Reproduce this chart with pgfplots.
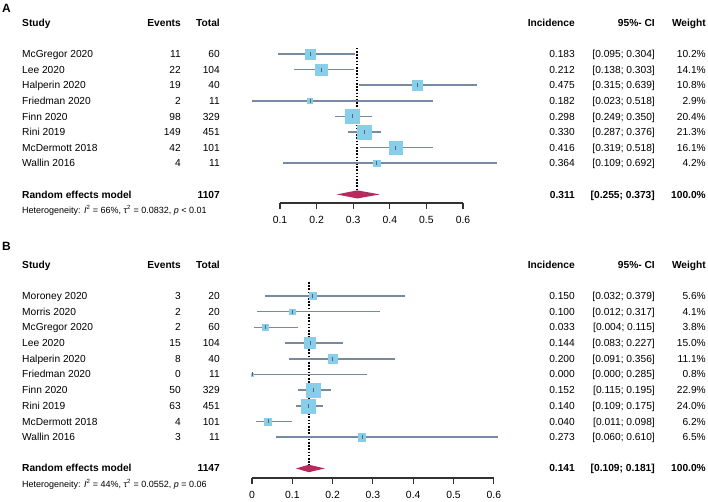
\documentclass[border=0pt]{standalone}
\usepackage{pgfplots}
\pgfplotsset{compat=1.18}
\usepackage{pgfplotstable}
\usepackage{fontspec}
\setmainfont{Liberation Sans}

\definecolor{boxblue}{RGB}{135,206,235}
\definecolor{ciline}{RGB}{118,138,160}
\definecolor{tickgray}{RGB}{90,100,115}
\definecolor{diam}{RGB}{185,40,95}
\definecolor{axisgray}{RGB}{50,50,50}

% panel A: row, incidence, lower, upper, weight
\pgfplotstableread{
row est lo hi w
1 0.183 0.095 0.304 10.2
2 0.212 0.138 0.303 14.1
3 0.475 0.315 0.639 10.8
4 0.182 0.023 0.518 2.9
5 0.298 0.249 0.350 20.4
6 0.330 0.287 0.376 21.3
7 0.416 0.319 0.518 16.1
8 0.364 0.109 0.692 4.2
}\dataA

% panel B
\pgfplotstableread{
row est lo hi w
1 0.150 0.032 0.379 5.6
2 0.100 0.012 0.317 4.1
3 0.033 0.004 0.115 3.8
4 0.144 0.083 0.227 15.0
5 0.200 0.091 0.356 11.1
6 0.000 0.000 0.285 0.8
7 0.152 0.115 0.195 22.9
8 0.140 0.109 0.175 24.0
9 0.040 0.011 0.098 6.2
10 0.273 0.060 0.610 6.5
}\dataB

\pgfplotsset{
  forest/.style={
    anchor=south west, y dir=reverse, ymin=0,
    axis x line*=bottom, axis y line=none, ytick=\empty,
    tick align=outside, major tick length=5.5pt,
    axis line style={axisgray, line width=1.1pt},
    tick style={axisgray, line width=1.1pt},
    xticklabel style={font=\fontsize{10.4}{12}\selectfont, yshift=-4.5pt},
    /pgf/number format/assume math mode=true,
    clip=false,
  },
  boxes/.style={scatter, only marks, mark=square*, point meta=explicit,
    scatter/use mapped color={draw=boxblue, fill=boxblue},
    visualization depends on={#1*sqrt(\thisrow{w}) \as \msize},
    scatter/@pre marker code/.append style={/tikz/mark size=\msize}},
  cis/.style={only marks, mark=|, mark size=2pt,
    mark options={tickgray, line width=0.7pt},
    error bars/.cd, x dir=both, x explicit, error mark=none,
    error bar style={ciline, line width=1.5pt}},
  refline/.style={black, line width=1.6pt, dash pattern=on 1.6pt off 1.6pt},
}

\tikzset{txt/.style={inner sep=0pt, font=\fontsize{10.2}{12}\selectfont}}

% y = row centre in pixels from the top
\newcommand{\trow}[7]{%
  \node[txt, anchor=base west] at (22pt,{497.35pt-#1pt}) {#2};
  \node[txt, anchor=base east] at (181pt,{497.35pt-#1pt}) {#3};
  \node[txt, anchor=base east] at (220pt,{497.35pt-#1pt}) {#4};
  \node[txt, anchor=base east] at (575pt,{497.35pt-#1pt}) {#5};
  \node[txt, anchor=base east] at (655pt,{497.35pt-#1pt}) {#6};
  \node[txt, anchor=base east] at (706pt,{497.35pt-#1pt}) {#7};
}
\newcommand{\hetero}[2]{%
  \node[inner sep=0pt, anchor=base west, font=\fontsize{9}{11}\selectfont]
    at (22pt,{497.8pt-#1pt}) {#2};
}

\begin{document}
\begin{tikzpicture}
\useasboundingbox (0,0) rectangle (708pt,501pt);

% ---------- A ----------
\begin{axis}[forest, at={(280pt,298pt)},
  x=366pt, y=15.6pt, xmin=0.1, xmax=0.6, ymax=10.55,
  xtick={0.1,0.2,0.3,0.4,0.5,0.6}]
\addplot [refline] coordinates {(0.311,0.6) (0.311,10)};
\addplot [boxes=1.55] table [x=est, y=row, meta=w] {\dataA};
\addplot [cis] table [x=est, y=row,
  x error plus expr=\thisrow{hi}-\thisrow{est},
  x error minus expr=\thisrow{est}-\thisrow{lo}] {\dataA};
\addplot [fill=diam, draw=none]
  coordinates {(0.255,10) (0.311,9.74) (0.373,10) (0.311,10.26) (0.255,10)};
\end{axis}

% ---------- B ----------
\begin{axis}[forest, at={(252pt,23pt)},
  x=403pt, y=15.67pt, xmin=0, xmax=0.6, ymax=12.61,
  xtick={0,0.1,0.2,0.3,0.4,0.5,0.6}]
\addplot [refline] coordinates {(0.141,0.1) (0.141,12)};
\addplot [boxes=1.43] table [x=est, y=row, meta=w] {\dataB};
\addplot [cis] table [x=est, y=row,
  x error plus expr=\thisrow{hi}-\thisrow{est},
  x error minus expr=\thisrow{est}-\thisrow{lo}] {\dataB};
\addplot [fill=diam, draw=none]
  coordinates {(0.109,12) (0.141,11.76) (0.181,12) (0.141,12.24) (0.109,12)};
\end{axis}

% ---------- text, A ----------
\node[inner sep=0pt, anchor=base west, font=\bfseries\fontsize{12}{14}\selectfont] at (2pt,488.5pt) {A};
\trow{23}{\textbf{Study}}{\textbf{Events}}{\textbf{Total}}{\textbf{Incidence}}{\textbf{95\%- CI}}{\textbf{Weight}}
\trow{54}{McGregor 2020}{11}{60}{0.183}{[0.095; 0.304]}{10.2\%}
\trow{69.6}{Lee 2020}{22}{104}{0.212}{[0.138; 0.303]}{14.1\%}
\trow{85.2}{Halperin 2020}{19}{40}{0.475}{[0.315; 0.639]}{10.8\%}
\trow{100.8}{Friedman 2020}{2}{11}{0.182}{[0.023; 0.518]}{2.9\%}
\trow{116.4}{Finn 2020}{98}{329}{0.298}{[0.249; 0.350]}{20.4\%}
\trow{132}{Rini 2019}{149}{451}{0.330}{[0.287; 0.376]}{21.3\%}
\trow{147.6}{McDermott 2018}{42}{101}{0.416}{[0.319; 0.518]}{16.1\%}
\trow{163.2}{Wallin 2016}{4}{11}{0.364}{[0.109; 0.692]}{4.2\%}
\trow{194.4}{\textbf{Random effects model}}{}{\textbf{1107}}{\textbf{0.311}}{\textbf{[0.255; 0.373]}}{\textbf{100.0\%}}
\hetero{210}{Heterogeneity: \textit{I}\textsuperscript{2} = 66\%, τ\textsuperscript{2} = 0.0832, \textit{p} < 0.01}

% ---------- text, B ----------
\node[inner sep=0pt, anchor=base west, font=\bfseries\fontsize{12}{14}\selectfont] at (2pt,251pt) {B};
\trow{265}{\textbf{Study}}{\textbf{Events}}{\textbf{Total}}{\textbf{Incidence}}{\textbf{95\%- CI}}{\textbf{Weight}}
\trow{296}{Moroney 2020}{3}{20}{0.150}{[0.032; 0.379]}{5.6\%}
\trow{311.7}{Morris 2020}{2}{20}{0.100}{[0.012; 0.317]}{4.1\%}
\trow{327.3}{McGregor 2020}{2}{60}{0.033}{[0.004; 0.115]}{3.8\%}
\trow{343}{Lee 2020}{15}{104}{0.144}{[0.083; 0.227]}{15.0\%}
\trow{358.7}{Halperin 2020}{8}{40}{0.200}{[0.091; 0.356]}{11.1\%}
\trow{374.3}{Friedman 2020}{0}{11}{0.000}{[0.000; 0.285]}{0.8\%}
\trow{390}{Finn 2020}{50}{329}{0.152}{[0.115; 0.195]}{22.9\%}
\trow{405.7}{Rini 2019}{63}{451}{0.140}{[0.109; 0.175]}{24.0\%}
\trow{421.4}{McDermott 2018}{4}{101}{0.040}{[0.011; 0.098]}{6.2\%}
\trow{437}{Wallin 2016}{3}{11}{0.273}{[0.060; 0.610]}{6.5\%}
\trow{468}{\textbf{Random effects model}}{}{\textbf{1147}}{\textbf{0.141}}{\textbf{[0.109; 0.181]}}{\textbf{100.0\%}}
\hetero{484}{Heterogeneity: \textit{I}\textsuperscript{2} = 44\%, τ\textsuperscript{2} = 0.0552, \textit{p} = 0.06}
\end{tikzpicture}
\end{document}
